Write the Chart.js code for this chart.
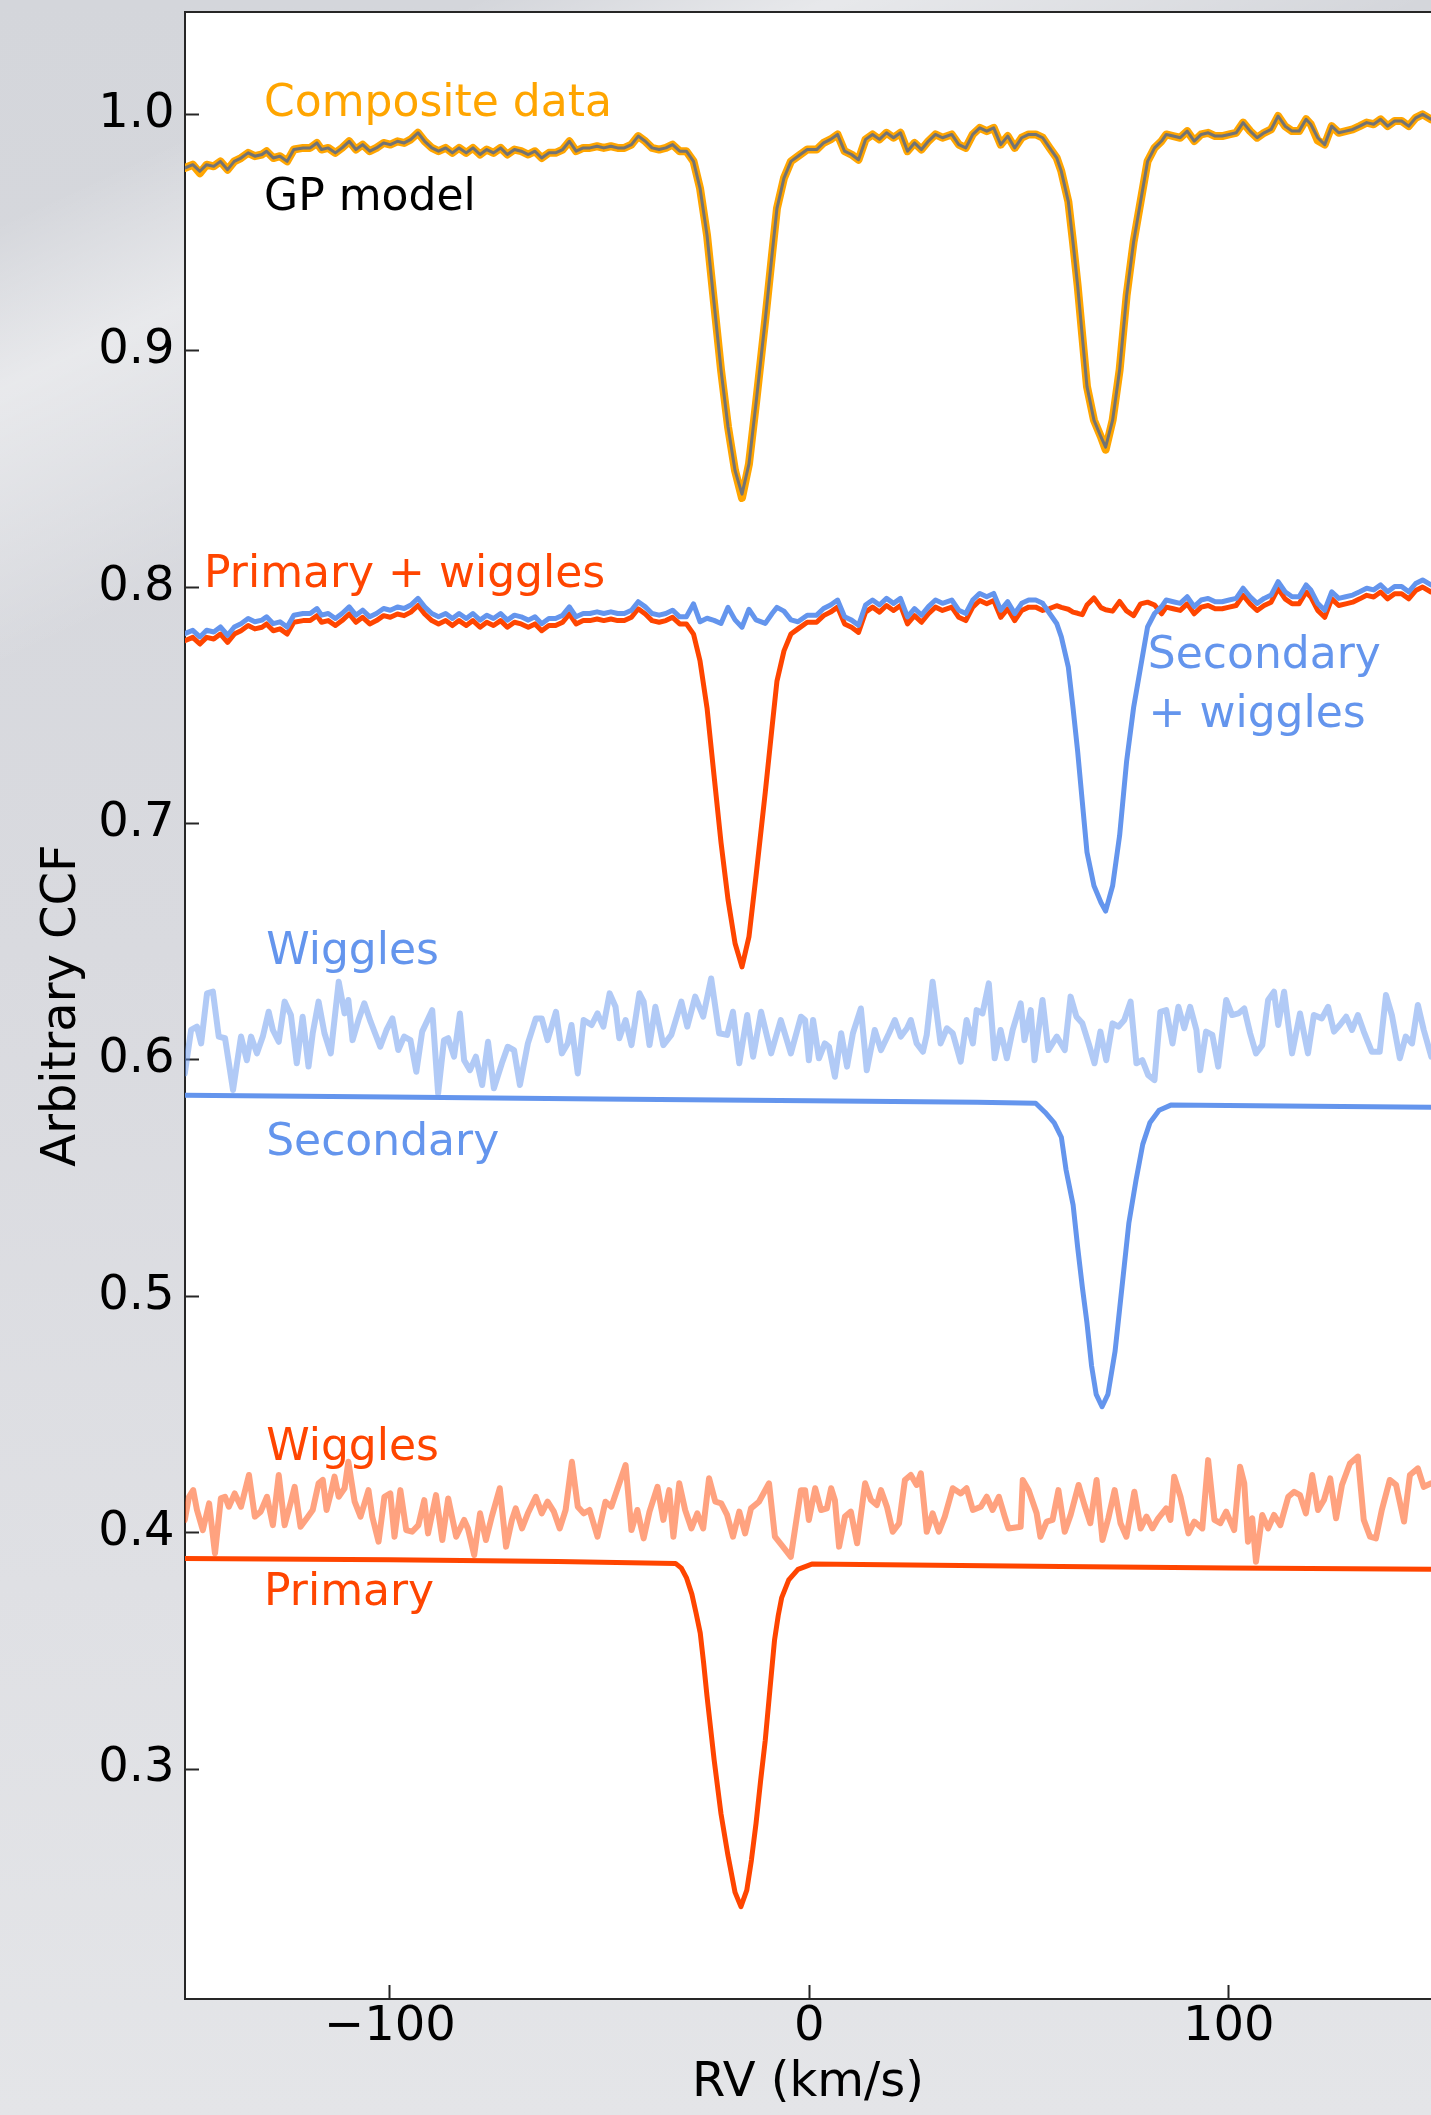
<!DOCTYPE html>
<html><head><meta charset="utf-8">
<script src="https://cdn.jsdelivr.net/npm/chart.js@4/dist/chart.umd.min.js"></script>
<style>
html,body{margin:0;padding:0;overflow:hidden;}
body{width:1431px;height:2115px;background:
 linear-gradient(155deg, rgba(255,255,255,0) 8%, rgba(255,255,255,0.45) 14%, rgba(255,255,255,0) 24%),
 linear-gradient(180deg,#d4d6db 0%,#d9dadf 45%,#dfe0e4 75%,#e4e5e8 100%);}
canvas{display:block;}
</style></head>
<body><canvas id="c" width="1431" height="2115"></canvas>
<script>
// ---------- data (RV in km/s, arbitrary CCF) ----------
const rvTop = [-148.9,-147.0,-145.3,-143.7,-142.0,-140.4,-138.7,-137.1,-135.5,-133.8,-132.2,-130.5,-129.4,-127.8,-126.2,-124.5,-122.9,-120.7,-119.0,-117.4,-116.3,-114.7,-113.0,-111.4,-109.7,-108.1,-106.5,-104.8,-103.2,-101.5,-99.9,-98.2,-96.6,-95.0,-93.3,-91.7,-90.0,-88.4,-86.7,-85.1,-83.5,-81.8,-80.2,-78.5,-76.9,-75.3,-73.6,-72.0,-70.3,-68.7,-67.0,-65.4,-63.8,-62.1,-60.5,-58.8,-57.2,-55.6,-53.9,-52.3,-50.6,-49.0,-47.3,-45.7,-44.1,-42.4,-40.8,-39.1,-37.5,-35.8,-34.2,-32.6,-30.9,-29.3,-27.6,
-26.05,-24.38,-22.72,-21.05,-19.38,-17.71,-16.05,-14.38,-12.71,-10.49,-8.82,-7.71,-6.04,-4.38,-2.71,-0.49,1.74,3.40,5.07,6.74,8.41,10.07,11.74,13.41,15.08,16.74,18.41,20.08,21.74,23.41,25.08,26.75,28.41,30.08,31.75,33.97,35.64,37.31,38.97,40.64,42.31,43.97,45.64,47.31,48.98,50.64,52.31,53.98,55.65,57.31,58.98,60.09,61.76,62.87,63.98,65.09,66.21,67.87,69.54,70.65,72.32,73.99,75.65,77.32,78.99,80.65,82.32,83.99,85.10,86.77,88.43,90.10,91.77,93.44,95.10,96.77,98.44,100.11,101.77,103.44,105.11,106.77,108.44,110.11,111.78,113.44,115.11,116.78,118.45,119.56,121.22,122.89,124.56,126.23,127.89,129.56,131.23,132.89,134.56,136.23,137.90,139.56,141.23,142.90,144.57,146.23,148.23];

const gpModel = [0.9774,0.9788,0.9760,0.9788,0.9781,0.9802,0.9767,0.9802,0.9816,0.9838,0.9824,0.9831,0.9845,0.9816,0.9824,0.9802,0.9852,0.9859,0.9859,0.9880,0.9852,0.9859,0.9838,0.9859,0.9887,0.9852,0.9873,0.9845,0.9859,0.9880,0.9873,0.9887,0.9880,0.9895,0.9923,0.9887,0.9859,0.9845,0.9859,0.9838,0.9859,0.9838,0.9859,0.9831,0.9852,0.9838,0.9859,0.9831,0.9852,0.9845,0.9831,0.9845,0.9816,0.9838,0.9838,0.9852,0.9887,0.9845,0.9859,0.9859,0.9866,0.9859,0.9866,0.9859,0.9859,0.9873,0.9909,0.9887,0.9859,0.9852,0.9859,0.9873,0.9845,0.9845,0.9802,
0.9688,0.9489,0.9205,0.8920,0.8679,0.8494,0.8394,0.8522,0.8778,0.9134,0.9418,0.9603,0.9731,0.9802,0.9824,0.9852,0.9852,0.9880,0.9895,0.9916,0.9845,0.9831,0.9809,0.9895,0.9916,0.9895,0.9923,0.9902,0.9923,0.9845,0.9880,0.9852,0.9888,0.9916,0.9902,0.9916,0.9873,0.9859,0.9916,0.9944,0.9930,0.9944,0.9873,0.9909,0.9859,0.9902,0.9916,0.9916,0.9902,0.9859,0.9817,0.9760,0.9632,0.9461,0.9276,0.9063,0.8849,0.8707,0.8636,0.8593,0.8707,0.8920,0.9233,0.9461,0.9632,0.9802,0.9859,0.9888,0.9916,0.9909,0.9902,0.9930,0.9888,0.9916,0.9923,0.9909,0.9909,0.9916,0.9923,0.9966,0.9930,0.9902,0.9923,0.9937,0.9994,0.9951,0.9930,0.9930,0.9980,0.9959,0.9902,0.9873,0.9951,0.9923,0.9930,0.9937,0.9951,0.9966,0.9959,0.9980,0.9951,0.9973,0.9973,0.9951,0.9986,1.0001,0.9980];

const compositeData = [0.9774,0.9788,0.9752,0.9788,0.9781,0.9802,0.9767,0.9802,0.9816,0.9838,0.9824,0.9831,0.9845,0.9816,0.9824,0.9802,0.9852,0.9859,0.9859,0.9880,0.9852,0.9859,0.9838,0.9859,0.9887,0.9852,0.9873,0.9845,0.9859,0.9880,0.9873,0.9887,0.9880,0.9895,0.9923,0.9887,0.9859,0.9845,0.9859,0.9838,0.9859,0.9838,0.9859,0.9831,0.9852,0.9838,0.9859,0.9831,0.9852,0.9845,0.9831,0.9845,0.9816,0.9838,0.9838,0.9852,0.9887,0.9845,0.9859,0.9859,0.9866,0.9859,0.9866,0.9859,0.9859,0.9873,0.9909,0.9887,0.9859,0.9852,0.9859,0.9873,0.9845,0.9845,0.9802,
0.9688,0.9489,0.9205,0.8920,0.8679,0.8494,0.8378,0.8522,0.8778,0.9134,0.9418,0.9603,0.9731,0.9802,0.9824,0.9852,0.9852,0.9880,0.9895,0.9916,0.9845,0.9831,0.9809,0.9895,0.9916,0.9895,0.9923,0.9902,0.9923,0.9845,0.9880,0.9852,0.9888,0.9916,0.9902,0.9916,0.9873,0.9859,0.9916,0.9944,0.9930,0.9944,0.9873,0.9909,0.9859,0.9902,0.9916,0.9916,0.9902,0.9859,0.9817,0.9760,0.9632,0.9461,0.9276,0.9063,0.8849,0.8707,0.8636,0.8582,0.8707,0.8920,0.9233,0.9461,0.9632,0.9802,0.9859,0.9888,0.9916,0.9909,0.9902,0.9930,0.9888,0.9916,0.9923,0.9909,0.9909,0.9916,0.9923,0.9966,0.9930,0.9902,0.9923,0.9937,0.9994,0.9951,0.9930,0.9930,0.9980,0.9959,0.9890,0.9873,0.9951,0.9923,0.9930,0.9937,0.9951,0.9966,0.9959,0.9980,0.9951,0.9973,0.9973,0.9951,0.9986,1.0001,0.9980];

const primaryPlusWiggles = [0.7774,0.7788,0.7760,0.7788,0.7781,0.7802,0.7767,0.7802,0.7816,0.7838,0.7824,0.7831,0.7845,0.7816,0.7824,0.7802,0.7852,0.7859,0.7859,0.7880,0.7852,0.7859,0.7838,0.7859,0.7887,0.7852,0.7873,0.7845,0.7859,0.7880,0.7873,0.7887,0.7880,0.7895,0.7923,0.7887,0.7859,0.7845,0.7859,0.7838,0.7859,0.7838,0.7859,0.7831,0.7852,0.7838,0.7859,0.7831,0.7852,0.7845,0.7831,0.7845,0.7816,0.7838,0.7838,0.7852,0.7887,0.7845,0.7859,0.7859,0.7866,0.7859,0.7866,0.7859,0.7859,0.7873,0.7909,0.7887,0.7859,0.7852,0.7859,0.7873,0.7845,0.7845,0.7802,
0.7688,0.7489,0.7205,0.6920,0.6679,0.6494,0.6394,0.6522,0.6778,0.7134,0.7418,0.7603,0.7731,0.7802,0.7824,0.7852,0.7852,0.7880,0.7895,0.7916,0.7845,0.7831,0.7809,0.7895,0.7916,0.7895,0.7923,0.7902,0.7923,0.7845,0.7880,0.7852,0.7888,0.7916,0.7902,0.7916,0.7873,0.7859,0.7916,0.7944,0.7930,0.7944,0.7873,0.7909,0.7859,0.7902,0.7916,0.7916,0.7902,0.7910,0.7922,0.7915,0.7907,0.7895,0.7890,0.7884,0.7925,0.7955,0.7914,0.7905,0.7899,0.7940,0.7900,0.7880,0.7930,0.7937,0.7925,0.7888,0.7916,0.7909,0.7902,0.7930,0.7888,0.7916,0.7923,0.7909,0.7909,0.7916,0.7923,0.7966,0.7930,0.7902,0.7923,0.7937,0.7994,0.7951,0.7930,0.7930,0.7980,0.7959,0.7902,0.7873,0.7951,0.7923,0.7930,0.7937,0.7951,0.7966,0.7959,0.7980,0.7951,0.7973,0.7973,0.7951,0.7986,0.8001,0.7980];

const secondaryPlusWiggles = [0.7804,0.7818,0.7790,0.7818,0.7811,0.7832,0.7797,0.7832,0.7846,0.7868,0.7854,0.7861,0.7875,0.7846,0.7854,0.7832,0.7882,0.7889,0.7889,0.7910,0.7882,0.7889,0.7868,0.7889,0.7917,0.7882,0.7903,0.7875,0.7889,0.7910,0.7903,0.7917,0.7910,0.7925,0.7953,0.7917,0.7889,0.7875,0.7889,0.7868,0.7889,0.7868,0.7889,0.7861,0.7882,0.7868,0.7889,0.7861,0.7882,0.7875,0.7861,0.7875,0.7846,0.7868,0.7868,0.7882,0.7917,0.7875,0.7889,0.7889,0.7896,0.7889,0.7896,0.7889,0.7889,0.7903,0.7939,0.7917,0.7889,0.7882,0.7889,0.7903,0.7875,0.7875,0.7930,
0.7854,0.7869,0.7860,0.7847,0.7915,0.7862,0.7831,0.7907,0.7862,0.7847,0.7890,0.7915,0.7899,0.7862,0.7854,0.7882,0.7882,0.7910,0.7925,0.7946,0.7875,0.7861,0.7839,0.7925,0.7946,0.7925,0.7953,0.7932,0.7953,0.7875,0.7910,0.7882,0.7918,0.7946,0.7932,0.7946,0.7903,0.7889,0.7946,0.7974,0.7960,0.7974,0.7903,0.7939,0.7889,0.7932,0.7946,0.7946,0.7932,0.7889,0.7847,0.7790,0.7662,0.7491,0.7306,0.7093,0.6879,0.6737,0.6666,0.6630,0.6737,0.6950,0.7263,0.7491,0.7662,0.7832,0.7889,0.7918,0.7946,0.7939,0.7932,0.7960,0.7918,0.7946,0.7953,0.7939,0.7939,0.7946,0.7953,0.7996,0.7960,0.7932,0.7953,0.7967,0.8024,0.7981,0.7960,0.7960,0.8010,0.7989,0.7932,0.7903,0.7981,0.7953,0.7960,0.7967,0.7981,0.7996,0.7989,0.8010,0.7981,0.8003,0.8003,0.7981,0.8016,0.8031,0.8010];

const rvWigglesBlue = [-148.9,-147.4,-146.0,-145.0,-143.6,-142.2,-140.8,-139.3,-137.4,-135.5,-134.1,-133.1,-131.7,-130.3,-128.9,-127.9,-126.5,-125.1,-123.6,-122.2,-120.8,-119.4,-118.4,-117.0,-115.6,-114.1,-112.2,-110.8,-109.9,-108.9,-107.5,-106.1,-104.6,-102.3,-100.8,-99.4,-98.0,-96.6,-95.1,-93.7,-92.3,-89.9,-88.5,-87.1,-86.1,-84.7,-83.3,-82.3,-80.9,-79.5,-78.0,-76.6,-75.2,-73.3,-71.9,-70.4,-69.0,-67.1,-65.2,-63.8,-62.4,-60.4,-59.0,-57.6,-56.7,-55.2,-53.8,-51.9,-50.5,-49.1,-47.6,-46.2,-45.3,-43.8,-42.4,-40.5,-39.5,-38.1,-36.7,-34.8,-32.9,-30.5,-29.1,-27.2,-25.3,-23.4,-21.5,-19.6,-18.2,-16.7,-14.8,-13.4,-11.5,-9.1,-6.8,-4.4,-2.0,
-1.0,-0.1,0.9,2.3,3.7,4.7,6.1,7.6,9.0,10.4,12.3,13.7,15.6,17.1,19.0,20.4,21.8,23.3,24.2,25.6,27.1,28.0,29.4,31.3,32.8,34.2,36.1,37.5,39.0,39.9,41.3,42.8,44.2,45.6,47.1,48.5,50.4,51.3,52.8,53.7,55.6,57.0,59.0,60.9,62.3,63.7,65.1,66.6,68.0,69.4,70.8,72.3,73.7,75.1,76.6,78.0,79.4,80.8,82.3,83.7,85.1,86.6,88.0,89.4,90.8,92.3,93.2,94.6,96.1,97.5,99.4,100.8,102.3,103.7,105.1,106.5,108.0,109.4,110.8,111.8,113.2,115.1,117.0,118.9,120.3,122.2,123.7,125.1,126.5,128.0,129.4,130.8,132.2,134.1,136.0,137.5,138.9,140.8,142.2,143.7,145.1,146.5,148.3];
const wigglesBlue = [0.5943,0.6127,0.6141,0.6070,0.6282,0.6289,0.6099,0.6092,0.5873,0.6099,0.5999,0.6099,0.6028,0.6099,0.6204,0.6127,0.6077,0.6247,0.6190,0.5986,0.6183,0.5972,0.6113,0.6247,0.6113,0.6028,0.6331,0.6197,0.6254,0.6084,0.6169,0.6240,0.6162,0.6056,0.6127,0.6176,0.6042,0.6099,0.6084,0.5950,0.6120,0.6211,0.5859,0.6084,0.6092,0.6014,0.6197,0.5999,0.5957,0.6014,0.5894,0.6077,0.5880,0.5986,0.6056,0.6042,0.5894,0.6070,0.6176,0.6176,0.6084,0.6204,0.6028,0.6070,0.6148,0.5943,0.6169,0.6148,0.6197,0.6141,0.6282,0.6225,0.6092,0.6169,0.6063,0.6282,0.6247,0.6063,0.6225,0.6063,0.6106,0.6247,0.6141,0.6268,0.6183,0.6345,0.6113,0.6106,0.6204,0.5986,0.6190,0.6014,0.6204,0.6028,0.6169,0.6028,0.6183,
0.6169,0.5999,0.6169,0.6007,0.6070,0.6056,0.5929,0.6113,0.5972,0.6113,0.6218,0.5957,0.6127,0.6042,0.6113,0.6169,0.6099,0.6134,0.6169,0.6070,0.6035,0.6106,0.6331,0.6070,0.6134,0.6113,0.5993,0.6169,0.6070,0.6211,0.6197,0.6324,0.6007,0.6127,0.6007,0.6127,0.6240,0.6084,0.6211,0.5999,0.6254,0.6042,0.6099,0.6042,0.6268,0.6183,0.6155,0.6070,0.5986,0.6120,0.5999,0.6155,0.6141,0.6169,0.6247,0.5986,0.5999,0.5936,0.5915,0.6204,0.6211,0.6070,0.6225,0.6134,0.6225,0.6127,0.5957,0.6120,0.6106,0.5972,0.6254,0.6190,0.6197,0.6218,0.6113,0.6028,0.6063,0.6254,0.6289,0.6148,0.6289,0.6028,0.6197,0.6028,0.6190,0.6176,0.6225,0.6120,0.6148,0.6183,0.6127,0.6190,0.6120,0.6035,0.6035,0.6275,0.6190,0.6007,0.6099,0.6070,0.6233,0.6127,0.6014];

const rvSecondary = [-148.9,-100,-50,0,40,53.98,56.2,58.4,60.1,61.2,62.9,64.0,65.1,66.2,67.3,68.4,69.8,71.2,72.9,74.0,75.1,76.2,77.9,79.5,81.2,83.4,86.2,120,148.3];
const secondary = [0.5851,0.5843,0.5835,0.5828,0.5821,0.5817,0.5779,0.5734,0.5673,0.5537,0.5386,0.5205,0.5039,0.4888,0.4706,0.4585,0.4533,0.4585,0.4767,0.4948,0.5129,0.5311,0.5492,0.5643,0.5734,0.5787,0.5809,0.5804,0.5800];

const rvWigglesRed = [-148.9,-147.9,-146.9,-146.0,-144.6,-143.1,-141.7,-140.3,-139.3,-138.4,-137.0,-135.5,-133.6,-132.2,-130.8,-129.3,-127.9,-126.5,-125.1,-123.6,-122.7,-121.3,-119.8,-118.4,-117.0,-116.0,-115.1,-114.1,-113.2,-112.2,-110.8,-109.9,-108.4,-107.0,-105.1,-104.2,-102.7,-101.3,-99.9,-98.9,-97.5,-96.1,-94.7,-93.2,-91.8,-90.9,-89.0,-87.5,-86.1,-84.2,-82.3,-81.4,-79.9,-78.5,-77.1,-75.7,-73.8,-72.3,-70.9,-70.0,-68.5,-67.1,-65.2,-63.8,-62.4,-60.9,-59.5,-58.1,-56.6,-55.2,-53.8,-52.4,-50.5,-48.6,-47.2,-45.7,-43.8,-42.4,-41.0,-39.5,-38.1,-36.2,-34.8,-33.4,-32.4,-31.0,-29.6,-28.1,-26.7,-25.3,-23.9,-22.4,-21.0,-19.6,-18.2,-16.7,-15.3,-13.9,-12.0,-9.6,-8.2,-6.3,-4.4,-2.0,
-1.0,-0.1,1.4,2.8,4.2,5.2,6.1,7.1,8.5,9.9,11.4,13.3,14.7,16.1,17.1,18.5,19.9,21.4,22.8,24.2,25.6,26.6,28.0,29.4,30.9,32.3,34.2,36.1,37.5,39.0,40.9,42.3,43.7,45.2,46.6,47.5,50.4,50.9,52.3,54.2,55.1,56.6,58.0,59.4,60.9,62.3,64.2,65.6,67.0,68.5,69.9,71.3,72.8,74.2,75.6,77.5,79.0,80.4,81.8,83.2,85.1,86.1,87.0,88.5,90.4,91.8,93.7,95.1,96.6,98.0,99.4,101.3,102.7,103.7,104.6,105.6,106.5,108.0,109.4,110.8,112.3,114.2,115.6,117.0,118.4,119.9,121.3,122.7,124.2,125.6,127.0,128.9,130.8,132.2,133.7,135.1,136.5,138.4,139.9,141.8,143.2,145.1,146.5,148.3];
const wigglesRed = [0.4054,0.4152,0.4180,0.4096,0.4011,0.4124,0.3912,0.4145,0.4152,0.4110,0.4166,0.4110,0.4244,0.4068,0.4089,0.4152,0.4032,0.4244,0.4032,0.4131,0.4194,0.4025,0.4061,0.4096,0.4209,0.4223,0.4096,0.4166,0.4237,0.4152,0.4188,0.4300,0.4131,0.4068,0.4180,0.4068,0.3962,0.4152,0.4166,0.3983,0.4180,0.4011,0.4004,0.4032,0.4138,0.3997,0.4159,0.3969,0.4145,0.3983,0.4054,0.4018,0.3905,0.4082,0.3969,0.4068,0.4188,0.3941,0.4054,0.4103,0.4018,0.4082,0.4152,0.4082,0.4131,0.4089,0.4018,0.4096,0.4300,0.4110,0.4082,0.4096,0.3983,0.4131,0.4110,0.4188,0.4286,0.4011,0.4096,0.3976,0.4089,0.4194,0.4054,0.4180,0.3983,0.4209,0.4096,0.4018,0.4082,0.4018,0.4230,0.4131,0.4124,0.4075,0.3983,0.4089,0.3997,0.4103,0.4131,0.4209,0.3983,0.3941,0.3898,0.4180,
0.4180,0.4054,0.4188,0.4096,0.4103,0.4188,0.4138,0.3941,0.4068,0.4089,0.3955,0.4209,0.4138,0.4117,0.4180,0.4110,0.4004,0.4039,0.4223,0.4244,0.4202,0.4251,0.4004,0.4082,0.4004,0.4068,0.4188,0.4166,0.4188,0.4096,0.4110,0.4152,0.4096,0.4152,0.4068,0.4018,0.4025,0.4223,0.4180,0.4082,0.3983,0.4047,0.4054,0.4180,0.4004,0.4075,0.4202,0.4117,0.4040,0.4223,0.3969,0.4061,0.4180,0.4040,0.3983,0.4173,0.4018,0.4068,0.4018,0.4061,0.4103,0.4054,0.4237,0.4152,0.3997,0.4047,0.4018,0.4307,0.4054,0.4040,0.4089,0.4011,0.4279,0.4209,0.3962,0.4061,0.3877,0.4075,0.4018,0.4075,0.4032,0.4152,0.4173,0.4159,0.4082,0.4244,0.4096,0.4138,0.4230,0.4061,0.4202,0.4293,0.4322,0.4054,0.3983,0.3976,0.4096,0.4223,0.4202,0.4047,0.4244,0.4272,0.4194,0.4209];

const rvPrimary = [-148.9,-100,-60,-31.9,-30.5,-29.3,-28.0,-27.0,-26.0,-25.2,-24.4,-22.7,-21.05,-19.4,-17.7,-16.3,-14.9,-13.8,-12.7,-11.6,-10.5,-9.4,-8.3,-7.4,-6.6,-4.9,-2.7,0.6,30,60,100,148.3];
const primary = [0.3891,0.3885,0.3878,0.3870,0.3850,0.3810,0.3740,0.3660,0.3575,0.3450,0.3310,0.3040,0.2810,0.2635,0.2478,0.2418,0.2488,0.2615,0.2770,0.2952,0.3122,0.3334,0.3544,0.3650,0.3724,0.3800,0.3845,0.3867,0.3862,0.3857,0.3851,0.3845];

const yTicks = [0.3,0.4,0.5,0.6,0.7,0.8,0.9,1.0];
const xTicks = [-100,0,100];

// text annotations, anchored in data coordinates (left edge, baseline)
const notes = [
  {text:'Composite data', x:-130.0, y:0.9994, color:'#FFA500'},
  {text:'GP model', x:-130.0, y:0.9596, color:'#000000'},
  {text:'Primary + wiggles', x:-144.3, y:0.8002, color:'#FF4500'},
  {text:'Secondary', x:80.7, y:0.7658, color:'#6495ED'},
  {text:'+ wiggles', x:80.9, y:0.7409, color:'#6495ED'},
  {text:'Wiggles', x:-129.5, y:0.6404, color:'#6495ED'},
  {text:'Secondary', x:-129.5, y:0.5598, color:'#6495ED'},
  {text:'Wiggles', x:-129.5, y:0.4306, color:'#FF4500'},
  {text:'Primary', x:-130.0, y:0.3694, color:'#FF4500'}
];

// ---------- build ----------
const pts = (xs, ys) => xs.slice(0, Math.min(xs.length, ys.length)).map((x, i) => ({x: x, y: ys[i]}));
const FONT = 'DejaVu Sans';

const series = [
  {data: pts(rvTop, compositeData), borderColor:'#FFA500', borderWidth:8},
  {data: pts(rvTop, gpModel), borderColor:'#737373', borderWidth:3},
  {data: pts(rvTop, primaryPlusWiggles), borderColor:'#FF4500', borderWidth:5},
  {data: pts(rvTop, secondaryPlusWiggles), borderColor:'#6495ED', borderWidth:5},
  {data: pts(rvWigglesBlue, wigglesBlue), borderColor:'rgba(100,149,237,0.5)', borderWidth:6},
  {data: pts(rvSecondary, secondary), borderColor:'#6495ED', borderWidth:5},
  {data: pts(rvWigglesRed, wigglesRed), borderColor:'rgba(255,69,0,0.5)', borderWidth:6},
  {data: pts(rvPrimary, primary), borderColor:'#FF4500', borderWidth:5}
];
const datasets = series.map((s, i) => Object.assign({
  showLine:true, pointRadius:0, fill:false, tension:0,
  borderJoinStyle:'round', borderCapStyle:'round',
  order: series.length - i
}, s));

const decor = {
  id:'decor',
  beforeDraw(chart){
    const {ctx, chartArea:a} = chart;
    ctx.save();
    ctx.fillStyle = '#ffffff';
    ctx.fillRect(a.left, a.top, a.right - a.left, a.bottom - a.top);
    ctx.restore();
  },
  afterDraw(chart){
    const {ctx, chartArea:a, scales} = chart;
    ctx.save();
    ctx.strokeStyle = '#262626';
    ctx.lineWidth = 2;
    ctx.beginPath();
    ctx.moveTo(a.left - 1, a.top);
    ctx.lineTo(a.right, a.top);
    ctx.stroke();
    ctx.font = '44px "' + FONT + '"';
    ctx.textAlign = 'left';
    ctx.textBaseline = 'alphabetic';
    notes.forEach(n => {
      ctx.fillStyle = n.color;
      ctx.fillText(n.text, scales.x.getPixelForValue(n.x), scales.y.getPixelForValue(n.y));
    });
    ctx.restore();
  }
};

new Chart(document.getElementById('c'), {
  type:'scatter',
  data:{datasets},
  plugins:[decor],
  options:{
    responsive:false, animation:false, devicePixelRatio:1,
    layout:{padding:{top:12, left:0, right:0, bottom:0}},
    plugins:{legend:{display:false}, tooltip:{enabled:false}},
    scales:{
      x:{
        type:'linear', position:'bottom', min:-148.85, max:148.23,
        afterFit(s){ s.height = 116; s.paddingLeft = 0; s.paddingRight = 0; },
        afterBuildTicks(s){ s.ticks = xTicks.map(v => ({value:v})); },
        grid:{drawOnChartArea:false, drawTicks:true, tickLength:-14, tickColor:'#262626', tickWidth:2, color:'#262626'},
        border:{display:true, color:'#262626', width:2},
        ticks:{padding:14, color:'#000', autoSkip:false, maxRotation:0, font:{family:FONT, size:48},
               callback:(v) => v < 0 ? '\u2212' + Math.abs(v) : String(v)},
        title:{display:true, text:'RV (km/s)', color:'#000', font:{family:FONT, size:48}, padding:{top:0, bottom:3}}
      },
      y:{
        type:'linear', position:'left', min:0.2027, max:1.0434,
        afterFit(s){ s.width = 185; s.paddingTop = 0; s.paddingBottom = 0; },
        afterBuildTicks(s){ s.ticks = yTicks.map(v => ({value:v})); },
        grid:{drawOnChartArea:false, drawTicks:true, tickLength:-14, tickColor:'#262626', tickWidth:2, color:'#262626'},
        border:{display:true, color:'#262626', width:2},
        ticks:{padding:24.5, color:'#000', autoSkip:false, font:{family:FONT, size:48},
               callback:(v) => Number(v).toFixed(1)},
        title:{display:true, text:'Arbitrary CCF', color:'#000', font:{family:FONT, size:48}, padding:{top:34, bottom:0}}
      }
    }
  }
});
</script></body></html>
